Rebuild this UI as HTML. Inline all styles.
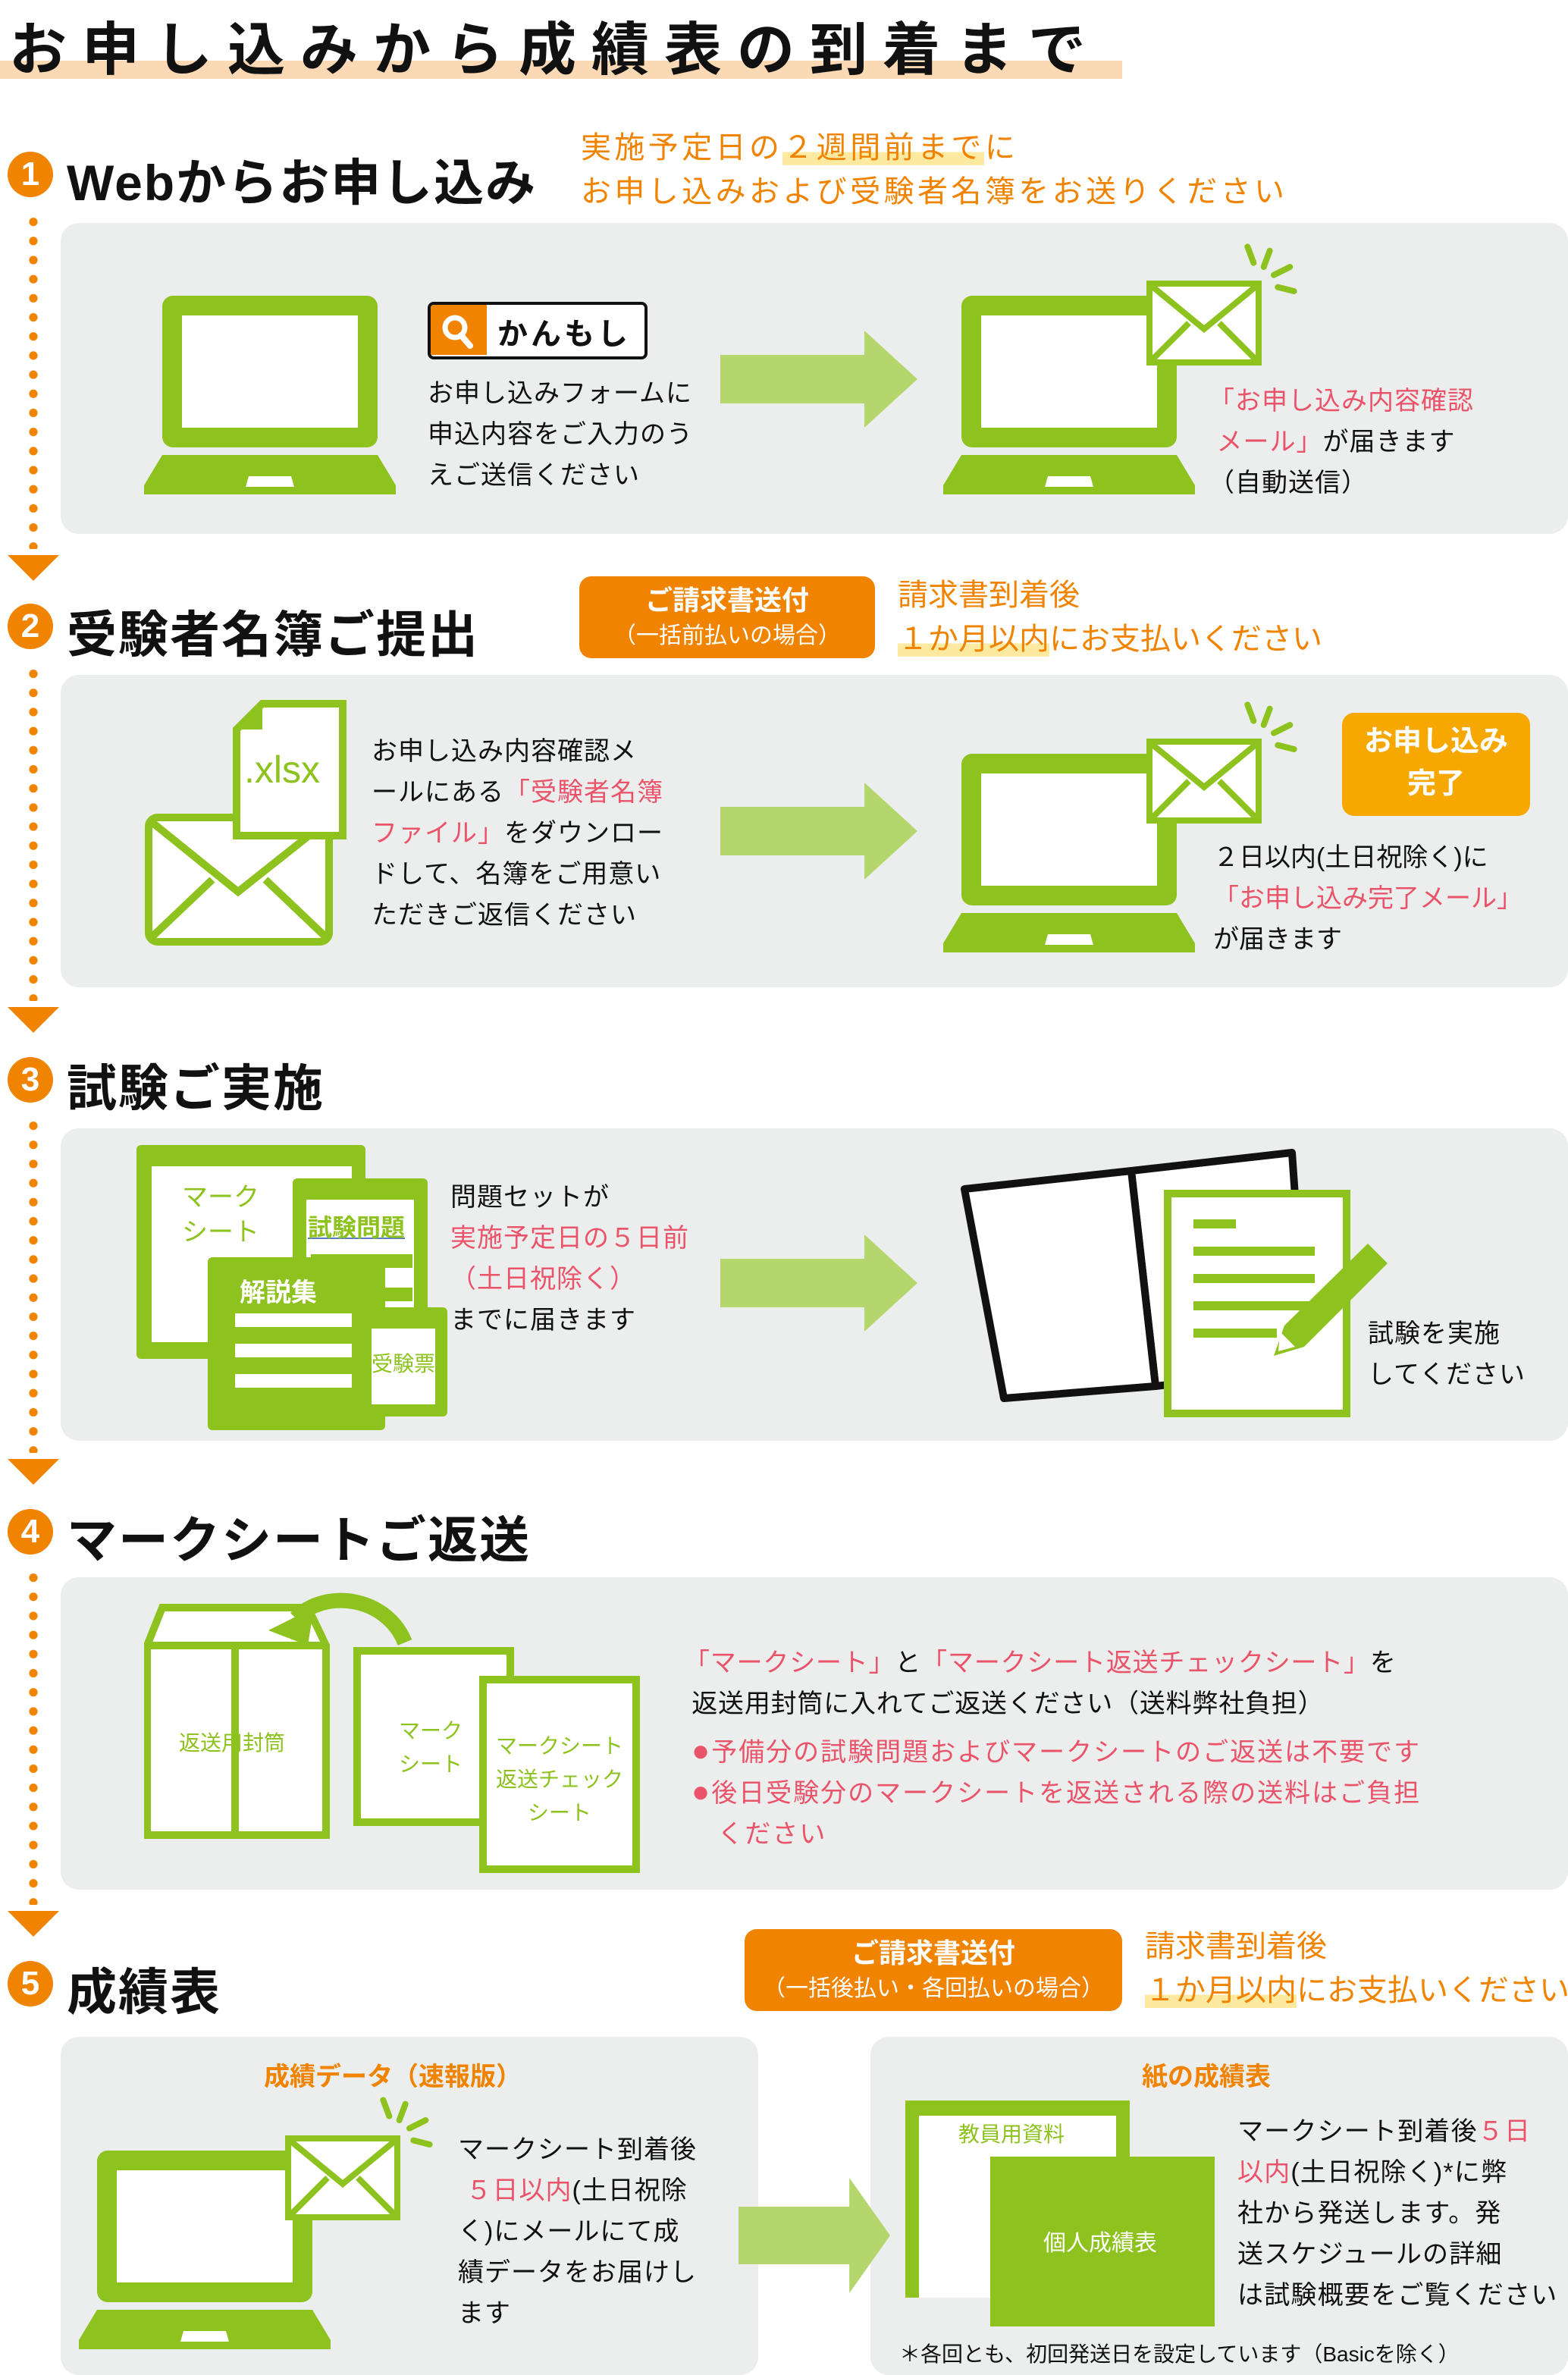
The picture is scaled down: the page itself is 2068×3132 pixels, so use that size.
<!DOCTYPE html>
<html><head><meta charset="utf-8">
<style>
*{margin:0;padding:0;box-sizing:border-box}
html,body{width:2068px;height:3131px;overflow:hidden;background:#fff}
#w{position:absolute;left:0;top:0;width:1034px;height:1566px;transform:scale(2);transform-origin:0 0;font-family:"Liberation Sans","Noto Sans CJK JP",sans-serif;color:#111}
.a{position:absolute}
.panel{position:absolute;background:#eceeed;border-radius:12px}
.h{position:absolute;font-size:33px;font-weight:bold;white-space:nowrap;letter-spacing:1px}
.num{position:absolute;width:30px;height:30px;border-radius:50%;background:#f08300;color:#fff;font-weight:bold;font-size:22px;text-align:center;line-height:30px}
.dots{position:absolute;left:19px;width:6px;background:radial-gradient(circle,#f08300 2.6px,transparent 3px) 0 0/6px 12.6px repeat-y}
.tri{position:absolute;left:5px;width:0;height:0;border-left:17px solid transparent;border-right:17px solid transparent;border-top:17px solid #f08300}
.t{position:absolute;font-size:17px;line-height:27px;white-space:nowrap}
.p{color:#e9546b}.o{color:#f08300}
.ob{position:absolute;background:#f08300;color:#fff;border-radius:8px;text-align:center;font-weight:bold}
.hl{background:linear-gradient(transparent 60%,#fde9a0 60%)}
</style></head><body>
<svg width="0" height="0" style="position:absolute">
<defs>
<symbol id="lap" viewBox="0 0 166 132">
<rect x="12" y="0" width="142" height="100" rx="7" fill="#8dc21f"/>
<rect x="25" y="13" width="116" height="74" fill="#fff"/>
<path d="M12 105 H154 L166 125 V131 H0 V125 Z" fill="#8dc21f"/>
<path d="M69 119 H97 L99 126 H67 Z" fill="#fff"/>
</symbol>
<symbol id="env" viewBox="0 0 76 56">
<rect x="2" y="2" width="72" height="52" fill="#fff" stroke="#8dc21f" stroke-width="4"/>
<path d="M4 4 L38 32 L72 4 M4 52 L28 28 M72 52 L48 28" fill="none" stroke="#8dc21f" stroke-width="4"/>
</symbol>
<symbol id="arr" viewBox="0 0 130 64">
<path d="M0 16 H95 V0 L130 32 L95 64 V48 H0 Z" fill="#b5d66c"/>
</symbol>
<symbol id="rays" viewBox="0 0 30 30">
<g stroke="#8dc21f" stroke-width="3" stroke-linecap="round"><path d="M5 2 L8 10"/><path d="M16 4 L13 12"/><path d="M26 12 L18 16"/><path d="M28 24 L20 22"/></g>
</symbol>
</defs></svg>
<div id="w">
<div class="a" style="left:0;top:40px;width:740px;height:12px;background:#fbd9b5"></div>
<div class="a" style="left:6px;top:2px;font-size:38px;font-weight:bold;letter-spacing:10px;white-space:nowrap">お申し込みから成績表の到着まで</div>

<div class="num" style="left:5px;top:100px">1</div>
<div class="h" style="left:44px;top:94px">Webからお申し込み</div>
<div class="t o" style="left:383px;top:84px;font-size:20px;line-height:29px;letter-spacing:2.2px">実施予定日の<span class="hl">２週間前まで</span>に<br>お申し込みおよび受験者名簿をお送りください</div>
<div class="dots" style="top:140px;height:222px"></div>
<div class="tri" style="top:366px"></div>
<div class="panel" style="left:40px;top:147px;width:994px;height:205px"></div>
<svg class="a" style="left:95px;top:195px" width="166" height="132"><use href="#lap"/></svg>
<div class="a" style="left:282px;top:199px;width:145px;height:38px;border:2.5px solid #111;border-radius:4px;background:#fff;overflow:hidden">
<div class="a" style="left:0;top:0;width:37px;height:33px;background:#f08300"></div>
<svg class="a" style="left:6px;top:5px" width="26" height="24"><circle cx="10" cy="10" r="6.5" fill="none" stroke="#fff" stroke-width="3.5"/><path d="M14 15 L20 22" stroke="#fff" stroke-width="4" stroke-linecap="round"/></svg>
<div class="a" style="left:44px;top:3px;font-size:20px;font-weight:bold;letter-spacing:2px;white-space:nowrap">かんもし</div></div>
<div class="t" style="left:282px;top:246px;letter-spacing:0.5px">お申し込みフォームに<br>申込内容をご入力のう<br>えご送信ください</div>
<svg class="a" style="left:475px;top:218px" width="130" height="64"><use href="#arr"/></svg>
<svg class="a" style="left:622px;top:195px" width="166" height="132"><use href="#lap"/></svg>
<svg class="a" style="left:756px;top:185px" width="76" height="56"><use href="#env"/></svg>
<svg class="a" style="left:816px;top:160px" width="40" height="40"><use href="#rays"/></svg>
<div class="t" style="left:797px;top:251px;letter-spacing:0.5px"><span class="p">「お申し込み内容確認<br>&nbsp;メール」</span>が届きます<br>（自動送信）</div>

<div class="num" style="left:5px;top:398px">2</div>
<div class="h" style="left:44px;top:392px">受験者名簿ご提出</div>
<div class="ob" style="left:382px;top:380px;width:195px;height:54px;font-size:18px;line-height:22px;padding-top:5px">ご請求書送付<br><span style="font-size:15px;font-weight:normal">（一括前払いの場合）</span></div>
<div class="t o" style="left:592px;top:379px;font-size:20px;line-height:29px">請求書到着後<br><span class="hl">１か月以内</span>にお支払いください</div>
<div class="dots" style="top:438px;height:222px"></div>
<div class="tri" style="top:664px"></div>
<div class="panel" style="left:40px;top:445px;width:994px;height:206px"></div>
<svg class="a" style="left:95px;top:536px" width="125" height="88" viewBox="0 0 125 88"><rect x="3" y="3" width="119" height="82" rx="6" fill="#fff" stroke="#8dc21f" stroke-width="5"/><path d="M5 6 L62 52 L120 6 M5 82 L45 44 M120 82 L80 44" fill="none" stroke="#8dc21f" stroke-width="5"/></svg>
<svg class="a" style="left:153px;top:461px" width="76" height="93" viewBox="0 0 76 93"><path d="M20 3 H73 V90 H3 V20 Z" fill="#fff" stroke="#8dc21f" stroke-width="5"/><path d="M3 20 H20 V3" fill="#8dc21f"/></svg>
<div class="a" style="left:161px;top:494px;font-size:25px;color:#8dc21f">.xlsx</div>
<div class="t" style="left:245px;top:482px;letter-spacing:0.5px">お申し込み内容確認メ<br>ールにある<span class="p">「受験者名簿<br>ファイル」</span>をダウンロー<br>ドして、名簿をご用意い<br>ただきご返信ください</div>
<svg class="a" style="left:475px;top:516px" width="130" height="64"><use href="#arr"/></svg>
<svg class="a" style="left:622px;top:497px" width="166" height="132"><use href="#lap"/></svg>
<svg class="a" style="left:756px;top:487px" width="76" height="56"><use href="#env"/></svg>
<svg class="a" style="left:816px;top:462px" width="40" height="40"><use href="#rays"/></svg>
<div class="ob" style="left:885px;top:470px;width:124px;height:68px;font-size:19px;line-height:28px;padding-top:6px;background:#f6a800">お申し込み<br>完了</div>
<div class="t" style="left:800px;top:552px">２日以内(土日祝除く)に<br><span class="p">「お申し込み完了メール」</span><br>が届きます</div>

<div class="num" style="left:5px;top:697px">3</div>
<div class="h" style="left:44px;top:691px">試験ご実施</div>
<div class="dots" style="top:736px;height:222px"></div>
<div class="tri" style="top:962px"></div>
<div class="panel" style="left:40px;top:744px;width:994px;height:206px"></div>
<div class="a" style="left:90px;top:755px;width:151px;height:141px;background:#8dc21f;border-radius:3px"><div class="a" style="left:10px;top:14px;width:132px;height:116px;background:#fff"></div></div>
<div class="a" style="left:120px;top:778px;font-size:17px;line-height:23px;color:#8dc21f">マーク<br>シート</div>
<div class="a" style="left:193px;top:777px;width:89px;height:130px;background:#8dc21f;border-radius:3px"><div class="a" style="left:9px;top:14px;width:71px;height:110px;background:#fff"></div>
<div class="a" style="left:20px;top:92px;width:77px;height:9px;background:#8dc21f"></div></div>
<div class="a" style="left:203px;top:796px;font-size:16px;color:#8dc21f;font-weight:bold;text-decoration:underline;text-decoration-color:#5b7cc4">試験問題</div>
<div class="a" style="left:205px;top:849px;width:67px;height:9px;background:#8dc21f"></div>
<div class="a" style="left:205px;top:827px;width:67px;height:9px;background:#8dc21f"></div>
<div class="a" style="left:137px;top:829px;width:117px;height:114px;background:#8dc21f;border-radius:3px"></div>
<div class="a" style="left:158px;top:838px;font-size:17px;color:#fff;font-weight:bold">解説集</div>
<div class="a" style="left:155px;top:866px;width:77px;height:9px;background:#fff"></div>
<div class="a" style="left:155px;top:886px;width:77px;height:9px;background:#fff"></div>
<div class="a" style="left:155px;top:906px;width:77px;height:9px;background:#fff"></div>
<div class="a" style="left:236px;top:862px;width:59px;height:72px;background:#8dc21f;border-radius:3px"><div class="a" style="left:9px;top:14px;width:42px;height:50px;background:#fff"></div></div>
<div class="a" style="left:245px;top:889px;font-size:14px;color:#8dc21f">受験票</div>
<div class="t" style="left:297px;top:776px;letter-spacing:0.5px">問題セットが<br><span class="p">実施予定日の５日前<br>（土日祝除く）</span><br>までに届きます</div>
<svg class="a" style="left:475px;top:814px" width="130" height="64"><use href="#arr"/></svg>
<svg class="a" style="left:632px;top:752px" width="290" height="185" viewBox="0 0 290 185">
<path d="M114 20 L220 8 L230 150 L130 162 Z" fill="#fff" stroke="#111" stroke-width="5" stroke-linejoin="round"/>
<path d="M4 32 L114 20 L130 162 L30 170 Z" fill="#fff" stroke="#111" stroke-width="5" stroke-linejoin="round"/>
<rect x="138" y="35" width="118" height="145" fill="#fff" stroke="#8dc21f" stroke-width="5"/>
<g fill="#8dc21f"><rect x="155" y="52" width="28" height="6"/><rect x="155" y="70" width="80" height="6"/><rect x="155" y="88" width="80" height="6"/><rect x="155" y="106" width="80" height="6"/><rect x="155" y="124" width="55" height="6"/></g>
<path d="M270 68 L283 81 L228 136 L208 142 L215 122 Z" fill="#8dc21f"/><path d="M212 126 L222 136 L211 139 Z" fill="#fff"/></svg>
<div class="t" style="left:902px;top:866px;letter-spacing:0.5px">試験を実施<br>してください</div>

<div class="num" style="left:5px;top:995px">4</div>
<div class="h" style="left:44px;top:989px">マークシートご返送</div>
<div class="dots" style="top:1034px;height:222px"></div>
<div class="tri" style="top:1260px"></div>
<div class="panel" style="left:40px;top:1040px;width:994px;height:206px"></div>
<svg class="a" style="left:95px;top:1045px" width="180" height="170" viewBox="0 0 180 170"><path d="M2 40 L12 15 H108 L120 40 V165 H2 Z" fill="#fff" stroke="#8dc21f" stroke-width="5"/><path d="M2 40 H120 M60 40 V165" stroke="#8dc21f" stroke-width="5"/><path d="M172 38 C160 8 120 2 100 22" fill="none" stroke="#8dc21f" stroke-width="10"/><path d="M82 30 L112 15 L108 40 Z" fill="#8dc21f"/></svg>
<div class="a" style="left:118px;top:1139px;font-size:14px;color:#8dc21f">返送用封筒</div>
<div class="a" style="left:233px;top:1086px;width:106px;height:118px;background:#fff;border:5px solid #8dc21f"></div>
<div class="a" style="left:263px;top:1130px;font-size:14px;line-height:22px;color:#8dc21f;text-align:center">マーク<br>シート</div>
<div class="a" style="left:316px;top:1105px;width:106px;height:130px;background:#fff;border:5px solid #8dc21f"></div>
<div class="a" style="left:320px;top:1140px;width:98px;font-size:14px;line-height:22px;color:#8dc21f;text-align:center">マークシート<br>返送チェック<br>シート</div>
<div class="t" style="left:451px;top:1083px;letter-spacing:0.4px"><span class="p">「マークシート」</span>と<span class="p">「マークシート返送チェックシート」</span>を<br>&nbsp;返送用封筒に入れてご返送ください（送料弊社負担）</div>
<div class="t p" style="left:456px;top:1142px;letter-spacing:1px"><span style="font-size:20px">●</span>予備分の試験問題およびマークシートのご返送は不要です<br><span style="font-size:20px">●</span>後日受験分のマークシートを返送される際の送料はご負担<br>&nbsp;&nbsp;&nbsp;ください</div>

<div class="num" style="left:5px;top:1293px">5</div>
<div class="h" style="left:44px;top:1287px">成績表</div>
<div class="ob" style="left:491px;top:1272px;width:249px;height:54px;font-size:18px;line-height:22px;padding-top:5px">ご請求書送付<br><span style="font-size:15px;font-weight:normal">（一括後払い・各回払いの場合）</span></div>
<div class="t o" style="left:755px;top:1270px;font-size:20px;line-height:29px">請求書到着後<br><span class="hl">１か月以内</span>にお支払いください</div>
<div class="panel" style="left:40px;top:1343px;width:460px;height:223px"></div>
<div class="panel" style="left:574px;top:1343px;width:460px;height:223px"></div>
<div class="a o" style="left:174px;top:1355px;font-size:17px;font-weight:bold">成績データ（速報版）</div>
<svg class="a" style="left:52px;top:1418px" width="166" height="132"><use href="#lap"/></svg>
<svg class="a" style="left:188px;top:1408px" width="76" height="56"><use href="#env"/></svg>
<svg class="a" style="left:246px;top:1382px" width="40" height="40"><use href="#rays"/></svg>
<div class="t" style="left:302px;top:1404px;letter-spacing:0.5px">マークシート到着後<br><span class="p">&nbsp;５日以内</span>(土日祝除<br>く)にメールにて成<br>績データをお届けし<br>ます</div>
<svg class="a" style="left:487px;top:1436px" width="100" height="76" viewBox="0 0 130 64" preserveAspectRatio="none"><use href="#arr"/></svg>
<div class="a o" style="left:753px;top:1355px;font-size:17px;font-weight:bold">紙の成績表</div>
<div class="a" style="left:597px;top:1385px;width:148px;height:130px;background:#8dc21f"><div class="a" style="left:9px;top:10px;width:130px;height:120px;background:#fff"></div></div>
<div class="a" style="left:632px;top:1397px;font-size:14px;color:#8dc21f">教員用資料</div>
<div class="a" style="left:653px;top:1422px;width:148px;height:112px;background:#8dc21f"></div>
<div class="a" style="left:688px;top:1468px;font-size:15px;color:#fff">個人成績表</div>
<div class="t" style="left:816px;top:1392px;letter-spacing:0.6px">マークシート到着後<span class="p">５日<br>以内</span>(土日祝除く)*に弊<br>社から発送します。発<br>送スケジュールの詳細<br>は試験概要をご覧ください</div>
<div class="a" style="left:593px;top:1542px;font-size:14px;white-space:nowrap">＊各回とも、初回発送日を設定しています（Basicを除く）</div>
</div>
</body></html>
